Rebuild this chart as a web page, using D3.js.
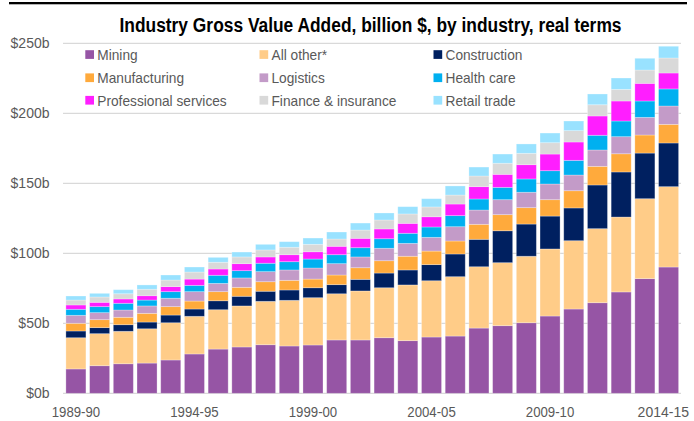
<!DOCTYPE html>
<html>
<head>
<meta charset="utf-8">
<script src="https://cdn.jsdelivr.net/npm/d3@7"></script>
<style>
  body { margin: 0; background: #fff; }
  text { font-family: "Liberation Sans", Arial, sans-serif; }
</style>
</head>
<body>
<div class="container"></div>
<script>
var years = ["1989-90","1990-91","1991-92","1992-93","1993-94","1994-95","1995-96","1996-97",
             "1997-98","1998-99","1999-00","2000-01","2001-02","2002-03","2003-04","2004-05",
             "2005-06","2006-07","2007-08","2008-09","2009-10","2010-11","2011-12","2012-13",
             "2013-14","2014-15"];
var tickYears = ["1989-90","1994-95","1999-00","2004-05","2009-10","2014-15"];
var yTicks = [0, 50, 100, 150, 200, 250];

var industries = ["Mining","All other*","Construction","Manufacturing","Logistics",
                  "Health care","Professional services","Finance & insurance","Retail trade"];
var colours = ["#9655a5","#ffcc88","#002060","#ffaa3c","#c39bc8",
               "#00b0f0","#ff1eff","#d9d9d9","#99e2ff"];

// billion $, one value per year
var mining        = [17.4,19.7,21.1,21.6,23.8,28.1,31.6,33.1,34.7,33.8,34.5,38.1,38.1,39.7,37.6,40.2,40.9,46.6,48.3,50.4,55.2,60.2,64.7,72.4,81.9,90.2];
var allOther      = [22.3,22.9,23.2,24.5,26.6,26.9,28.1,29.3,31.0,32.6,33.8,33.0,35.0,35.7,39.8,40.2,42.4,43.8,45.0,47.5,47.9,48.8,52.9,53.5,57.1,57.4];
var construction  = [4.8,4.3,4.7,4.8,5.5,5.2,6.4,6.9,7.2,7.4,7.1,6.5,8.3,10.5,10.7,11.5,16.2,19.6,22.8,23.0,23.5,23.4,31.2,32.2,32.6,31.2];
var manufacturing = [5.5,5.7,5.3,6.2,6.0,5.7,6.5,6.4,6.8,6.9,6.2,6.9,8.3,8.8,9.8,9.7,9.3,10.7,11.5,11.7,11.7,12.3,13.3,13.0,12.9,13.3];
var logistics     = [5.7,5.0,5.2,5.3,6.0,6.7,5.9,6.7,7.2,7.4,7.9,8.1,7.7,8.9,9.2,9.8,10.2,10.2,10.7,11.0,11.2,11.2,11.7,12.2,12.6,13.1];
var healthCare    = [4.3,4.3,4.8,4.2,4.7,4.5,5.8,5.2,6.0,5.9,6.4,6.4,6.6,6.8,7.2,7.4,7.9,7.9,8.8,9.5,9.5,10.5,10.5,11.2,11.7,12.2];
var professional  = [3.1,3.1,3.1,3.1,3.6,4.5,4.5,5.0,4.5,5.0,5.2,6.0,6.7,7.0,7.1,7.3,8.3,8.8,9.3,10.2,11.9,13.1,13.8,14.3,12.6,11.4];
var finance       = [3.5,3.8,3.7,4.6,4.7,5.0,4.8,4.8,5.0,5.3,5.3,5.2,5.9,6.4,6.7,7.0,6.4,7.6,7.9,8.1,8.1,8.1,8.0,8.3,9.5,10.7];
var retail        = [2.9,2.6,2.9,3.1,3.6,3.6,3.5,3.5,4.0,4.0,4.5,5.0,5.0,5.0,5.2,5.9,6.5,6.4,6.6,6.7,6.9,6.9,7.7,8.1,8.4,8.4];

var seriesValues = [mining, allOther, construction, manufacturing, logistics,
                    healthCare, professional, finance, retail];

// squeeze text a little, the original uses a narrow face
var narrow = function(sel, k){
    sel.each(function(){
        var w = this.getComputedTextLength();
        d3.select(this).attr('textLength', w * k).attr('lengthAdjust', 'spacingAndGlyphs');
    });
};

var loadChart = function(){
    var width = 694, height = 421;
    var left = 64, right = 680.5, top = 43.3, bottom = 393.3;

    var table = years.map(function(y, i){
        var row = {year: y};
        industries.forEach(function(name, k){ row[name] = seriesValues[k][i]; });
        return row;
    });

    var svg = d3.select('.container')
                .append('svg')
                .attr('width', width)
                .attr('height', height);

    // black rule along the top
    svg.append('rect')
        .attr('x', 9).attr('y', 2)
        .attr('width', 678).attr('height', 2.3)
        .attr('fill', '#000');

    svg.append('text')
        .attr('x', 119.5).attr('y', 32.3)
        .attr('font-size', 19.5)
        .attr('font-weight', 'bold')
        .attr('fill', '#000')
        .attr('textLength', 502)
        .attr('lengthAdjust', 'spacingAndGlyphs')
        .text('Industry Gross Value Added, billion $, by industry, real terms');

    var x = d3.scaleBand().domain(years).range([left, right]).paddingInner(0.155).paddingOuter(0.08);
    var y = d3.scaleLinear().domain([0, 250]).range([bottom, top]);

    // gridlines
    svg.append('g')
        .selectAll('line')
        .data(yTicks)
        .enter()
        .append('line')
        .attr('x1', 63).attr('x2', 681)
        .attr('y1', function(d){ return y(d); })
        .attr('y2', function(d){ return y(d); })
        .attr('stroke', '#d9d9d9')
        .attr('stroke-width', 1.3);

    var stack = d3.stack().keys(industries);
    var layers = stack(table);

    svg.append('g')
        .selectAll('g')
        .data(layers)
        .enter()
        .append('g')
        .attr('fill', function(d, i){ return colours[i]; })
        .selectAll('rect')
        .data(function(d){ return d; })
        .enter()
        .append('rect')
        .attr('x', function(d){ return x(d.data.year); })
        .attr('width', x.bandwidth())
        .attr('y', function(d){ return y(d[1]); })
        .attr('height', function(d){ return y(d[0]) - y(d[1]); })
        .attr('stroke', '#ffffff')
        .attr('stroke-opacity', 0.35)
        .attr('stroke-width', 0.8);

    // y axis labels
    var yAxis = d3.axisLeft(y).tickValues(yTicks).tickSize(0).tickPadding(0)
                  .tickFormat(function(d){ return '$' + d + 'b'; });
    var gy = svg.append('g').attr('transform', 'translate(49.5,0)').call(yAxis);
    gy.select('.domain').remove();
    gy.selectAll('text').attr('font-size', 14).attr('fill', '#595959')
      .attr('font-family', '"Liberation Sans", Arial, sans-serif');

    // x axis labels
    var xAxis = d3.axisBottom(x).tickValues(tickYears).tickSize(0).tickPadding(0);
    var gx = svg.append('g').attr('transform', 'translate(0,406.8)').call(xAxis);
    gx.select('.domain').remove();
    gx.selectAll('text').attr('font-size', 15).attr('fill', '#595959')
      .attr('font-family', '"Liberation Sans", Arial, sans-serif')
      .call(narrow, 0.88);
    // keep the last label inside the frame
    var lastX = x('2014-15') + x.bandwidth() / 2;
    gx.selectAll('text').filter(function(d){ return d === '2014-15'; })
      .attr('textLength', null)
      .attr('lengthAdjust', null)
      .attr('font-size', 14)
      .attr('text-anchor', 'end')
      .attr('x', 689 - lastX);

    // legend, 3 columns
    var colX = [85.3, 259.5, 433.5], rowY = [54.5, 77.7, 100.2];
    var legend = svg.append('g')
        .selectAll('g')
        .data(industries)
        .enter()
        .append('g')
        .attr('transform', function(d, i){
            return 'translate(' + colX[i % 3] + ',' + rowY[Math.floor(i / 3)] + ')';
        });
    legend.append('rect')
        .attr('x', 0).attr('y', -4.3)
        .attr('width', 8.7).attr('height', 8.7)
        .attr('fill', function(d, i){ return colours[i]; });
    legend.append('text')
        .attr('x', 12).attr('y', 5.5)
        .attr('font-size', 15)
        .attr('fill', '#595959')
        .text(function(d){ return d; })
        .call(narrow, 0.913);
};
window.onload = loadChart;
</script>
</body>
</html>
